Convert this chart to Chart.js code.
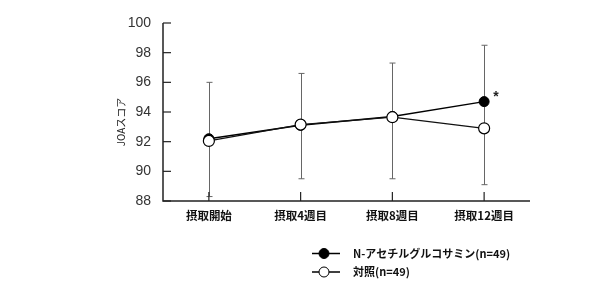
<!DOCTYPE html>
<html><head><meta charset="utf-8">
<script src="https://cdn.jsdelivr.net/npm/chart.js@4/dist/chart.umd.min.js"></script>
<style>html,body{margin:0;padding:0;background:#fff}#wrap{width:611px;height:291px;position:relative}</style>
</head><body><div id="wrap"><canvas id="c" width="611" height="291"></canvas></div>
<script>
const categories = ['摂取開始','摂取4週目','摂取8週目','摂取12週目'];
const nagValues = [92.2, 93.1, 93.7, 94.7];
const controlValues = [92.05, 93.15, 93.65, 92.9];
const errHigh = [96.0, 96.6, 97.3, 98.5];
const errLow = [88.3, 89.5, 89.5, 89.1];
const yTicks = [88, 90, 92, 94, 96, 98, 100];
const seriesNames = ['N-アセチルグルコサミン(n=49)', '対照(n=49)'];
const yTitle = 'JOAスコア';
const sigMark = '*';
const sigIndex = 3;

const cjk = '"Noto Sans CJK JP", sans-serif';

const custom = {
  id: 'custom',
  beforeDatasetsDraw(chart) {
    const ctx = chart.ctx, x = chart.scales.x, y = chart.scales.y;
    ctx.save();
    ctx.strokeStyle = '#666'; ctx.lineWidth = 1;
    categories.forEach((c, i) => {
      const px = Math.round(x.getPixelForValue(i)) + 0.5;
      const hi = y.getPixelForValue(errHigh[i]), lo = y.getPixelForValue(errLow[i]);
      ctx.beginPath();
      ctx.moveTo(px, hi); ctx.lineTo(px, lo);
      ctx.moveTo(px - 3, hi); ctx.lineTo(px + 3, hi);
      ctx.moveTo(px - 3, lo); ctx.lineTo(px + 3, lo);
      ctx.stroke();
    });
    ctx.restore();
  },
  afterDraw(chart) {
    const ctx = chart.ctx, x = chart.scales.x, y = chart.scales.y, a = chart.chartArea;
    ctx.save();
    ctx.strokeStyle = '#222'; ctx.lineWidth = 1.5;
    ctx.beginPath();
    ctx.moveTo(a.left, a.top); ctx.lineTo(a.left, a.bottom); ctx.lineTo(a.right, a.bottom);
    ctx.stroke();
    ctx.lineWidth = 1.2;
    yTicks.forEach(v => {
      const py = y.getPixelForValue(v);
      ctx.beginPath(); ctx.moveTo(a.left, py); ctx.lineTo(a.left + 8, py); ctx.stroke();
    });
    categories.forEach((c, i) => {
      const px = x.getPixelForValue(i);
      ctx.beginPath(); ctx.moveTo(px, a.bottom); ctx.lineTo(px, a.bottom - 9); ctx.stroke();
    });
    ctx.fillStyle = '#222';
    ctx.font = '10px ' + cjk;
    ctx.translate(121, 122);
    ctx.rotate(-Math.PI / 2);
    ctx.textAlign = 'center'; ctx.textBaseline = 'middle';
    ctx.fillText(yTitle, 0, 0);
    ctx.setTransform(1, 0, 0, 1, 0, 0);
    ctx.font = 'bold 14px "Liberation Sans", sans-serif';
    ctx.textAlign = 'left'; ctx.textBaseline = 'middle';
    ctx.fillText(sigMark, x.getPixelForValue(sigIndex) + 9, y.getPixelForValue(nagValues[sigIndex]) - 4);
    const rows = [{y: 253.5, fill: '#000'}, {y: 272, fill: '#fff'}];
    rows.forEach((r, i) => {
      ctx.strokeStyle = '#000'; ctx.lineWidth = 1.5;
      ctx.beginPath(); ctx.moveTo(312, r.y); ctx.lineTo(340, r.y); ctx.stroke();
      ctx.beginPath(); ctx.arc(324, r.y, 5, 0, Math.PI * 2);
      ctx.fillStyle = r.fill; ctx.fill(); ctx.lineWidth = 1; ctx.stroke();
      ctx.fillStyle = '#111';
      ctx.font = 'bold 11px ' + cjk;
      ctx.textAlign = 'left'; ctx.textBaseline = 'middle';
      ctx.fillText(seriesNames[i], 353, r.y);
    });
    ctx.restore();
  }
};

new Chart(document.getElementById('c'), {
  type: 'line',
  data: {
    labels: categories,
    datasets: [
      { label: seriesNames[0], data: nagValues, borderColor: '#000', borderWidth: 1.5, order: 2,
        pointBackgroundColor: '#000', pointBorderColor: '#000', pointRadius: 5, pointBorderWidth: 1, tension: 0 },
      { label: seriesNames[1], data: controlValues, borderColor: '#111', borderWidth: 1.2, order: 1,
        pointBackgroundColor: '#fff', pointBorderColor: '#000', pointRadius: 5.5, pointBorderWidth: 1.2, tension: 0 }
    ]
  },
  options: {
    responsive: false, animation: false,
    layout: { padding: { left: 0, right: 81, top: 23, bottom: 65 } },
    plugins: { legend: { display: false }, tooltip: { enabled: false } },
    scales: {
      x: {
        offset: true,
        grid: { display: false },
        border: { display: false },
        ticks: { color: '#111', font: { family: '"Noto Sans CJK JP"', size: 11.5, weight: 'bold' }, padding: 0 },
        afterFit(s) { s.height = 25; }
      },
      y: {
        min: 88, max: 100,
        afterBuildTicks(s) { s.ticks = yTicks.map(v => ({ value: v })); },
        grid: { display: false },
        border: { display: false },
        ticks: { color: '#333', font: { family: '"Liberation Sans", Arial', size: 14 }, padding: 4 },
        afterFit(s) { s.width = 163; }
      }
    }
  },
  plugins: [custom]
});
</script></body></html>
